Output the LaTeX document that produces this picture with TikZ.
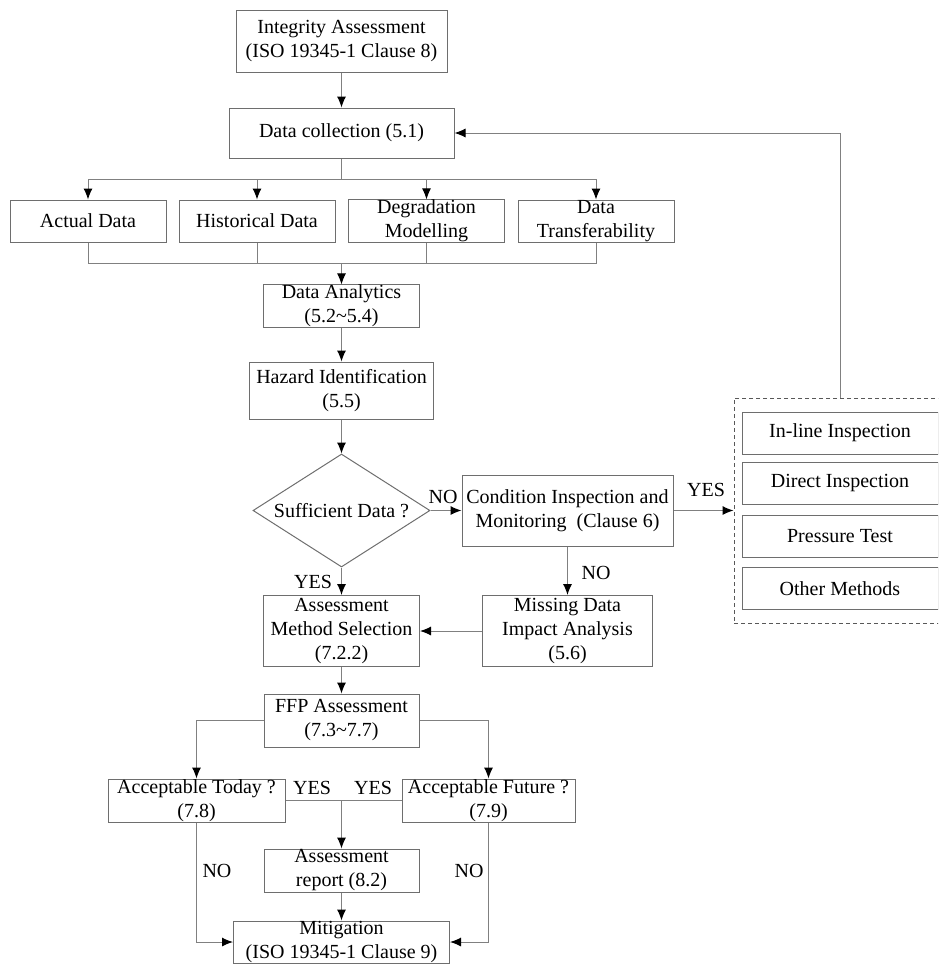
\documentclass[tikz,border=0pt]{standalone}
\usepackage{fontspec}
\setmainfont{Liberation Serif}
\usetikzlibrary{arrows.meta,shapes.geometric}
\definecolor{linegray}{HTML}{808080}
\definecolor{boxgray}{HTML}{6E6E6E}
\begin{document}
\begin{tikzpicture}[x=0.5pt, y=-0.5pt,
    font=\fontsize{10}{12}\selectfont,
    >={Latex[length=5.5pt,width=4.5pt,color=black]},
    box/.style={draw=boxgray, line width=0.5pt, inner sep=0pt, align=center},
    link/.style={draw=linegray, line width=0.5pt},
    lab/.style={inner sep=0pt}]
    % Giới hạn vùng hiển thị bằng \clip
    \useasboundingbox (0,0) rectangle (938,980);
    \clip (0,0) rectangle (938,980);

    % 1. Đánh giá và thu thập dữ liệu
    \node[box, minimum width=105.5pt, minimum height=31pt] (integ) at (341.5,41) {Integrity Assessment\\(ISO 19345-1 Clause 8)};
    \node[box, minimum width=112.5pt, minimum height=25pt] (collect) at (341.5,133) {Data collection (5.1)};
    \draw[link, ->] (integ) -- (collect);

    % 2. Bốn nguồn dữ liệu
    \node[box, minimum width=78pt, minimum height=21pt] (actual) at (88,221) {Actual Data};
    \node[box, minimum width=78pt, minimum height=21pt] (hist) at (257,221) {Historical Data};
    \node[box, minimum width=78pt, minimum height=21pt] (degr) at (426.5,221) {Degradation\\Modelling};
    \node[box, minimum width=78pt, minimum height=21pt] (transf) at (596,221) {Data\\Transferability};
    \coordinate (split) at (341.5,179);
    \coordinate (join) at (341.5,263);
    \draw[link] (collect) -- (split);
    \foreach \b in {actual, hist, degr, transf} {
        \draw[link, ->] (split) -| (\b.north);
        \draw[link] (\b.south) |- (join);
    }

    % 3. Phân tích và nhận diện nguy cơ
    \node[box, minimum width=78pt, minimum height=21pt] (analytics) at (341.5,306) {Data Analytics\\(5.2\textasciitilde5.4)};
    \node[box, minimum width=92pt, minimum height=28.5pt] (hazard) at (341.5,390.5) {Hazard Identification\\(5.5)};
    \node[draw=boxgray, line width=0.5pt, diamond, shape aspect=1.566, inner sep=0pt,
        minimum width=88.5pt, minimum height=56.5pt] (dec) at (341.5,510.5) {Sufficient Data ?};
    \draw[link, ->] (join) -- (analytics);
    \draw[link, ->] (analytics) -- (hazard);
    \draw[link, ->] (hazard) -- (dec);

    % 4. Kiểm tra và các phương pháp
    \node[box, minimum width=105.5pt, minimum height=35.5pt] (cond) at (567.5,510.5) {Condition Inspection and\\Monitoring\ \ (Clause 6)};
    \node[box, minimum width=85pt, minimum height=35.5pt] (missing) at (567.5,631) {Missing Data\\Impact Analysis\\(5.6)};
    \node[box, minimum width=78pt, minimum height=35.5pt] (method) at (341.5,631) {Assessment\\Method Selection\\(7.2.2)};
    \node[draw=boxgray!80!black, line width=0.5pt, dash pattern=on 2pt off 1.5pt, inner sep=0pt,
        minimum width=113pt, minimum height=112.5pt] (insp) at (847,510.5) {};
    \node[box, minimum width=98pt, minimum height=21pt] (inline) at (840,433) {In-line Inspection};
    \node[box, minimum width=98pt, minimum height=21pt] (direct) at (840,483) {Direct Inspection};
    \node[box, minimum width=98pt, minimum height=21pt] (press) at (840,536) {Pressure Test};
    \node[box, minimum width=98pt, minimum height=21pt] (other) at (840,588.5) {Other Methods};

    \draw[link, ->] (dec.east) -- (cond.west);
    \node[lab] (no1) at (443,497) {NO};
    \draw[link, ->] (cond.east) -- (cond.east -| insp.west);
    \node[lab] (yes1) at (706,490) {YES};
    \draw[link, ->] (inline.north |- insp.north) |- (collect.east);
    \draw[link, ->] (cond) -- (missing);
    \node[lab] (no2) at (596,573) {NO};
    \draw[link, ->] (dec.south) -- (method.north);
    \node[lab] (yes2) at (313,582) {YES};
    \draw[link, ->] (missing) -- (method);

    % 5. Đánh giá FFP và giảm thiểu
    \node[box, minimum width=77.5pt, minimum height=26.5pt] (ffp) at (341.5,720.5) {FFP Assessment\\(7.3\textasciitilde7.7)};
    \node[box, minimum width=88.5pt, minimum height=21.5pt] (today) at (196.5,800.5) {Acceptable Today ?\\(7.8)};
    \node[box, minimum width=86.5pt, minimum height=21.5pt] (future) at (488.5,800.5) {Acceptable Future ?\\(7.9)};
    \node[box, minimum width=77.5pt, minimum height=21.5pt] (report) at (341.5,870.5) {Assessment\\report (8.2)};
    \node[box, minimum width=108pt, minimum height=21pt] (mitig) at (341.5,942) {Mitigation\\(ISO 19345-1 Clause 9)};
    \coordinate (merge) at (341.5,800.5);

    \draw[link, ->] (method) -- (ffp);
    \draw[link, ->] (ffp.west) -| (today.north);
    \draw[link, ->] (ffp.east) -| (future.north);
    \draw[link] (today.east) -- (future.west);
    \draw[link, ->] (merge) -- (report);
    \node[lab] (yes3) at (312,788) {YES};
    \node[lab] (yes4) at (373,788) {YES};
    \draw[link, ->] (report) -- (mitig);
    \draw[link, ->] (today.south) |- (mitig.west);
    \draw[link, ->] (future.south) |- (mitig.east);
    \node[lab] (no3) at (217,871) {NO};
    \node[lab] (no4) at (469,871) {NO};

\end{tikzpicture}
\end{document}
